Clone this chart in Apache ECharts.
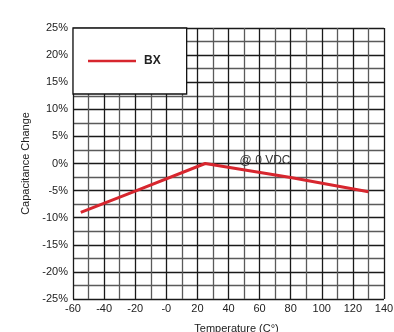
<!DOCTYPE html>
<html><head><meta charset="utf-8">
<script src="https://cdn.jsdelivr.net/npm/echarts@6/dist/echarts.min.js"></script>
<style>html,body{margin:0;padding:0;background:#fff}#c{width:394px;height:332px}</style>
</head><body><div id="c"></div>
<script>
const temperatures = [-55, -20, 25, 80, 130];
const capChange = [-9, -5.1, 0, -2.6, -5.2];
const seriesName = 'BX';
const xTickLabels = {'-60':'-60','-40':'-40','-20':'-20','0':'-0','20':'20','40':'40','60':'60','80':'80','100':'100','120':'120','140':'140'};
const annotationText = '@ 0 VDC';
const annotationAt = [63.5, 0.5];

const chart = echarts.init(document.getElementById('c'), null, {renderer:'canvas'});
const font = 'Liberation Sans, Arial, Helvetica, sans-serif';
chart.setOption({
  animation:false,
  backgroundColor:'#fff',
  grid:{left:73,right:10,top:28,bottom:33,containLabel:false,outerBoundsMode:'none'},
  legend:{
    show:true, left:73, top:28, orient:'vertical',
    backgroundColor:'#fff', borderColor:'#111', borderWidth:1.3,
    padding:[27,26,27,15],
    itemWidth:48, itemHeight:14, icon:'rect',
    itemStyle:{color:'#d7262e'},
    textStyle:{fontFamily:font,fontSize:12,fontWeight:'bold',color:'#222',padding:[0,0,0,3]},
    data:[{name:seriesName, icon:'path://M0,6 L48,6 L48,8.5 L0,8.5 Z'}]
  },
  xAxis:{
    type:'value', min:-60, max:140, interval:20,
    name:'Temperature (C°)', nameLocation:'middle', nameGap:24,
    nameTextStyle:{fontFamily:font,fontSize:11,color:'#222',padding:[0,0,0,16]},
    axisLine:{show:false}, axisTick:{show:false},
    axisLabel:{fontFamily:font,fontSize:11,color:'#222',margin:4,formatter:v=>xTickLabels[String(v)]},
    splitLine:{show:true,lineStyle:{color:'#1a1a1a',width:1.3}},
    minorTick:{show:false, splitNumber:2},
    minorSplitLine:{show:true,lineStyle:{color:'#5a5a5a',width:1.3}}
  },
  yAxis:{
    type:'value', min:-25, max:25, interval:5,
    name:'Capacitance Change', nameLocation:'middle', nameGap:42,
    nameTextStyle:{fontFamily:font,fontSize:11,color:'#222'},
    axisLine:{show:false}, axisTick:{show:false},
    axisLabel:{fontFamily:font,fontSize:11,color:'#222',margin:5,formatter:'{value}%',padding:[0,0,6,0]},
    splitLine:{show:true,lineStyle:{color:'#1a1a1a',width:1.3}},
    minorTick:{show:false, splitNumber:2},
    minorSplitLine:{show:true,lineStyle:{color:'#5a5a5a',width:1.3}}
  },
  series:[{
    name:seriesName, type:'line', showSymbol:false, symbol:'none',
    data:temperatures.map((t,i)=>[t,capChange[i]]),
    lineStyle:{color:'#d7262e',width:3},
    itemStyle:{color:'#d7262e'},
    markPoint:{
      symbol:'rect', symbolSize:1, itemStyle:{color:'rgba(0,0,0,0)'},
      label:{show:true,position:'inside',formatter:annotationText,fontFamily:font,fontSize:12,color:'#333'},
      data:[{coord:annotationAt}]
    }
  }]
});
</script></body></html>
